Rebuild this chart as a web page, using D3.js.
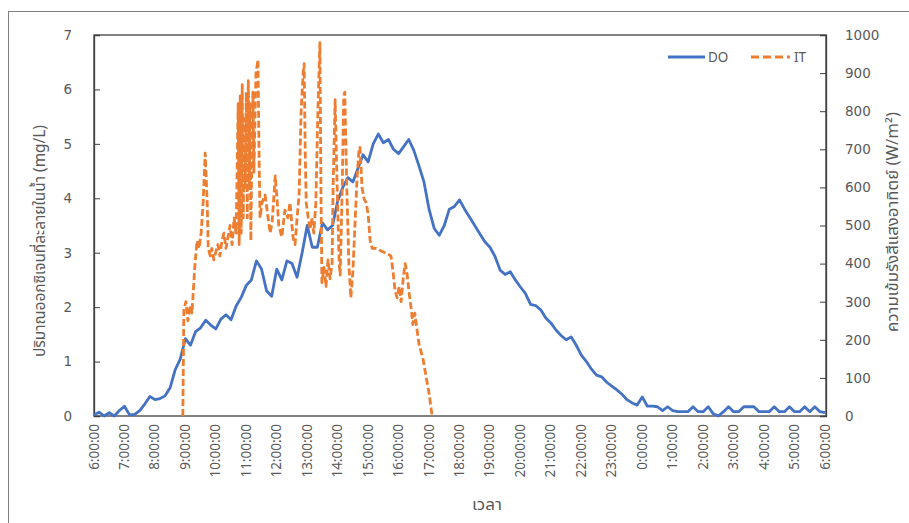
<!DOCTYPE html>
<html><head><meta charset="utf-8">
<script src="https://cdn.jsdelivr.net/npm/d3@7/dist/d3.min.js"></script>
<style>
html,body{margin:0;padding:0;background:#fff;}
svg{display:block;font-family:Tahoma,"Noto Sans Thai","Noto Sans","DejaVu Sans",sans-serif;}
</style></head>
<body><svg id="c" width="909" height="523"></svg>
<script>
// X tick labels (hour categories)
const xLabels = ["6:00:00","7:00:00","8:00:00","9:00:00","10:00:00","11:00:00","12:00:00","13:00:00","14:00:00","15:00:00","16:00:00","17:00:00","18:00:00","19:00:00","20:00:00","21:00:00","22:00:00","23:00:00","0:00:00","1:00:00","2:00:00","3:00:00","4:00:00","5:00:00","6:00:00"];
const leftTicks = [0,1,2,3,4,5,6,7];
const rightTicks = [0,100,200,300,400,500,600,700,800,900,1000];
// DO (mg/L) every 10 minutes from 6:00 to 6:00 next day
const doStepMin = 10;
const doValues = [0.02,0.07,0.0,0.06,0.0,0.1,0.18,0.02,0.03,0.1,0.22,0.36,0.3,0.32,0.37,0.52,0.85,1.05,1.42,1.30,
1.55,1.62,1.76,1.67,1.6,1.78,1.86,1.77,2.02,2.18,2.4,2.5,2.85,2.7,2.3,2.2,2.7,2.5,2.85,2.8,
2.55,3.0,3.5,3.1,3.1,3.55,3.42,3.5,3.95,4.2,4.38,4.3,4.55,4.8,4.67,5.0,5.18,5.02,5.08,4.9,
4.82,4.95,5.08,4.88,4.6,4.3,3.8,3.45,3.32,3.5,3.8,3.85,3.97,3.8,3.65,3.5,3.35,3.2,3.1,2.93,
2.68,2.6,2.65,2.5,2.37,2.25,2.05,2.03,1.95,1.8,1.71,1.58,1.48,1.4,1.45,1.3,1.12,1.0,0.86,0.75,
0.72,0.62,0.55,0.48,0.4,0.3,0.24,0.2,0.35,0.18,0.18,0.17,0.1,0.17,0.1,0.08,0.08,0.08,0.17,0.08,
0.08,0.17,0.04,0.0,0.08,0.17,0.08,0.08,0.17,0.17,0.17,0.08,0.08,0.08,0.17,0.08,0.08,0.17,0.08,0.08,
0.17,0.08,0.17,0.08,0.06];
// IT (W/m2): minutes after 6:00 and values
const itMinutes = [175,177,181,185,189,193,199,203,207,211,215,219,223,225,229,232,236,240,244,248,252,256,260,264,268,272,276,280,
284,286,288,290,292,294,296,298,300,302,304,306,307,309,311,313,315,319,323,325,327,331,337,343,347,351,357,361,364,370,376,382,386,392,396,400,404,408,412,414,416,418,422,426,429,433,437,441,445,447,449,453,457,461,465,469,471,475,479,483,485,489,492,494,498,502,506,510,514,518,522,524,528,532,536,540,544,548,556,563,571,579,585,589,593,597,601,605,609,613,617,621,625,628,632,636,640,644,648,652,656,660,664,666];
const itValues = [0,280,300,250,290,270,400,460,440,480,560,690,560,440,420,440,410,430,450,420,460,480,440,470,500,450,520,480,
820,450,840,480,870,520,780,600,850,520,880,600,820,460,700,850,640,900,935,700,520,560,580,520,480,510,630,560,500,470,540,520,560,470,450,520,580,800,900,925,700,560,520,490,520,480,560,800,980,600,350,390,340,410,360,400,600,830,600,400,370,600,840,850,600,400,310,380,500,620,700,705,600,570,560,530,460,440,440,435,430,425,420,380,330,310,340,300,360,400,370,320,280,240,270,230,190,170,150,120,90,60,20,0];

const svg = d3.select("#c");
const L = 94, R = 825, T = 35, B = 416;
const x = d3.scaleLinear().domain([0, 1440]).range([L, R]);
const yL = d3.scaleLinear().domain([0, 7]).range([B, T]);
const yR = d3.scaleLinear().domain([0, 1000]).range([B, T]);
const grey = "#595959";

// outer chart border
svg.append("rect").attr("x", 8.5).attr("y", 11.5).attr("width", 1000).attr("height", 1000)
  .attr("fill", "none").attr("stroke", "#7f7f7f").attr("stroke-width", 1);
// plot frame
svg.append("rect").attr("x", L).attr("y", T).attr("width", R - L + 1).attr("height", B - T)
  .attr("fill", "none").attr("stroke", "#404040").attr("stroke-width", 1.3);

// left axis
const gl = svg.append("g").attr("transform", `translate(${L},0)`)
  .call(d3.axisLeft(yL).tickValues(leftTicks).tickSize(-6).tickPadding(22).tickFormat(d3.format("d")));
// right axis
const gr = svg.append("g").attr("transform", `translate(${R + 1},0)`)
  .call(d3.axisRight(yR).tickValues(rightTicks).tickSize(-6).tickPadding(19).tickFormat(d3.format("d")));
[gl, gr].forEach(g => {
  g.select(".domain").attr("stroke", "#404040").attr("stroke-width", 1.3);
  g.selectAll(".tick line").attr("stroke", "#404040");
  g.selectAll(".tick text").attr("fill", grey).attr("font-size", 13.5).attr("font-family", "Tahoma,'DejaVu Sans',sans-serif");
});

// x labels
const xa = svg.append("g");
xa.selectAll("text").data(xLabels).join("text")
  .attr("transform", (d, i) => `translate(${x(i * 60) + 4.5},424) rotate(-90)`)
  .attr("text-anchor", "end").attr("fill", grey).attr("font-size", 13.5)
  .text(d => d);

// DO line
const doData = doValues.map((v, i) => ({ m: i * doStepMin, v }));
svg.append("path").datum(doData)
  .attr("fill", "none").attr("stroke", "#4472C4").attr("stroke-width", 2.8).attr("stroke-linejoin", "round")
  .attr("d", d3.line().x(d => x(d.m)).y(d => yL(d.v)));

// IT line
const itData = itMinutes.map((m, i) => ({ m, v: itValues[i] }));
svg.append("path").datum(itData)
  .attr("fill", "none").attr("stroke", "#ED7D31").attr("stroke-width", 2.8).attr("stroke-dasharray", "7,3")
  .attr("stroke-linejoin", "round")
  .attr("d", d3.line().x(d => x(d.m)).y(d => yR(d.v)));

// legend
svg.append("line").attr("x1", 668).attr("x2", 705).attr("y1", 57).attr("y2", 57)
  .attr("stroke", "#4472C4").attr("stroke-width", 2.8);
svg.append("text").attr("x", 708).attr("y", 62).attr("fill", grey).attr("font-size", 13.5).text("DO");
svg.append("line").attr("x1", 751).attr("x2", 790).attr("y1", 57).attr("y2", 57)
  .attr("stroke", "#ED7D31").attr("stroke-width", 2.8).attr("stroke-dasharray", "8,4");
svg.append("text").attr("x", 794).attr("y", 62).attr("fill", grey).attr("font-size", 13.5).text("IT");

// axis titles
svg.append("text").attr("transform", "translate(45,241) rotate(-90)")
  .attr("text-anchor", "middle").attr("fill", grey).attr("font-size", 15.5)
  .attr("textLength", 232).attr("lengthAdjust", "spacingAndGlyphs")
  .text("ปริมาณออกซิเจนที่ละลายในน้ำ (mg/L)");
svg.append("text").attr("transform", "translate(898,222) rotate(-90)")
  .attr("text-anchor", "middle").attr("fill", grey).attr("font-size", 15.5)
  .attr("textLength", 220).attr("lengthAdjust", "spacingAndGlyphs")
  .text("ความเข้มรังสีแสงอาทิตย์ (W/m²)");
svg.append("text").attr("x", 487).attr("y", 510).attr("text-anchor", "middle")
  .attr("fill", grey).attr("font-size", 16)
  .attr("textLength", 30).attr("lengthAdjust", "spacingAndGlyphs").text("เวลา");
</script></body></html>
